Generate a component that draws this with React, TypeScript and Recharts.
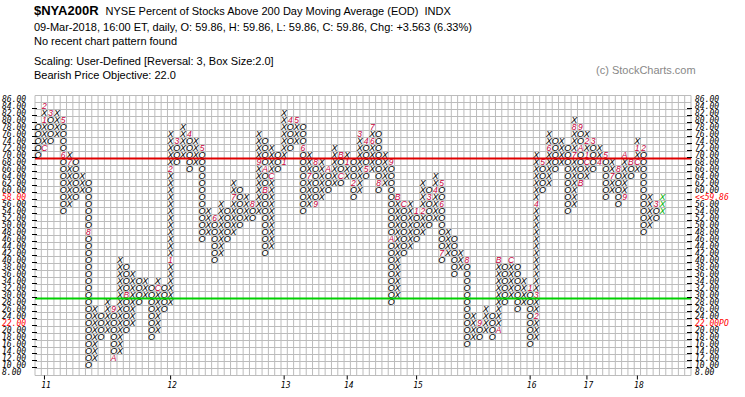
import React from 'react';
import { ComposedChart, Bar, XAxis, YAxis, CartesianGrid, ReferenceLine } from 'recharts';

// $NYA200R point & figure, box size 2, reversal 3.
// Columns alternate: even index = O column, odd index = X column.
const colLow = [
  70, 72, 74, 76, 54, 56, 58, 60, 10, 12, 18, 20, 12, 14, 20, 22, 28, 30, 18, 20,
  26, 28, 68, 70, 66, 68, 46, 48, 40, 42, 46, 48, 50, 52, 52, 54, 42, 44, 66, 68,
  72, 74, 54, 56, 56, 58, 60, 62, 62, 64, 58, 60, 64, 66, 60, 62, 28, 30, 42, 44,
  46, 48, 50, 52, 40, 42, 36, 38, 16, 18, 18, 20, 18, 20, 28, 30, 26, 28, 16, 18,
  60, 62, 66, 68, 54, 56, 62, 64, 66, 68, 58, 60, 56, 58, 64, 66, 48, 50, 52, 54,
];
const colHigh = [
  78, 84, 82, 82, 80, 70, 68, 64, 62, 26, 24, 28, 26, 40, 38, 36, 34, 34, 32, 34,
  32, 76, 74, 78, 76, 74, 72, 54, 52, 56, 54, 62, 60, 58, 56, 76, 74, 72, 70, 82,
  80, 80, 78, 70, 68, 68, 66, 72, 70, 70, 68, 76, 74, 78, 76, 70, 68, 58, 56, 56,
  54, 62, 60, 64, 62, 48, 46, 42, 40, 24, 22, 26, 24, 40, 38, 40, 38, 34, 32, 70,
  68, 76, 74, 74, 72, 80, 78, 76, 74, 72, 70, 68, 66, 70, 68, 74, 72, 58, 56, 58,
];

// month codes printed in place of a box (1-9 = Jan-Sep, A/B/C = Oct/Nov/Dec)
const markCol = [
  1, 1, 1, 2, 4, 4, 5, 8, 12, 12, 14, 19,
  21, 21, 22, 24, 26, 28, 31, 34, 35, 36, 36, 37,
  39, 40, 41, 42, 43, 44, 44, 46, 48, 48,
  49, 50, 51, 52, 52, 53, 53, 54, 56, 56, 57, 58,
  60, 61, 62, 63, 64, 64, 64, 68, 70, 73, 73, 75,
  78, 79, 79, 79, 80, 81, 85, 85, 86, 86, 86, 87,
  87, 87, 88, 89, 90, 91, 92, 93, 93, 94, 95,
  95, 96, 98,
];
const markBox = [
  72, 80, 84, 82, 80, 70, 68, 48, 26, 12, 30, 32,
  40, 66, 74, 76, 72, 52, 58, 56, 68, 66, 60, 64,
  68, 80, 80, 72, 64, 68, 56, 66, 70, 64,
  68, 62, 76, 74, 66, 74, 78, 62, 68, 46, 58, 56,
  54, 54, 58, 60, 62, 56, 42, 40, 22, 20, 40, 40,
  32, 24, 30, 56, 68, 72, 70, 78, 78, 72, 62, 68,
  70, 74, 74, 68, 70, 64, 66, 58, 70, 68, 68,
  72, 72, 56,
];
const markText = [
  'C', '1', '2', '3', '5', '6', '7', '8', '9', 'A', 'B', 'C',
  '1', '2', '3', '4', '5', '6', '7', '8', '9', 'A', 'B', 'C',
  '1', '4', '5', '6', '7', '8', '9', 'A', 'B', 'C',
  '1', '2', '3', '4', '5', '6', '7', '8', '9', 'A', 'B', 'C',
  '1', '2', '3', '4', '5', '6', '7', '8', '9', 'A', 'B', 'C',
  '1', '2', '3', '4', '5', '6', '7', '8', '9', 'A', 'B', 'C',
  '1', '2', '3', '4', '5', '7', '8', '9', 'A', 'B', 'C',
  '1', '2', '3',
];

const priceTicks = [
  86, 84, 82, 80, 78, 76, 74, 72, 70, 68, 66, 64, 62, 60, 58, 56, 54, 52, 50, 48,
  46, 44, 42, 40, 38, 36, 34, 32, 30, 28, 26, 24, 22, 20, 18, 16, 14, 12, 10, 8,
];
const yearCols = [1, 21, 39, 49, 60, 78, 87, 95];
const yearLabels = ['11', '12', '13', '14', '15', '16', '17', '18'];

const lastPrice = '59.86';
const lastBox = 58;
const objectiveBox = 22;
const resistanceLevel = 69;
const supportLevel = 29;
const totalCols = 104;

const MARK_RED = '#c8003c';
const AXIS_FONT = '"DejaVu Sans Mono", monospace';
const GLYPH_FONT = '"Liberation Sans", Arial, sans-serif';

const chartData = Array.from({ length: totalCols }, (_, i) => {
  const has = i < colLow.length;
  const marks: Record<number, string> = {};
  markCol.forEach((c, k) => {
    if (c === i) marks[markBox[k]] = markText[k];
  });
  return {
    col: i,
    range: has ? [colLow[i] - 1, colHigh[i] + 1] : null,
    low: has ? colLow[i] : null,
    high: has ? colHigh[i] : null,
    kind: i % 2 === 0 ? 'O' : 'X',
    current: i === colLow.length - 1,
    marks,
  };
});

const PFColumn = (props: any) => {
  const { x, y, width, height, payload } = props;
  if (!payload || payload.low == null) return <g />;
  const top = Math.min(y, y + height);
  const h = Math.abs(height);
  const n = (payload.high - payload.low) / 2 + 1;
  const bh = h / n;
  const out = [];
  for (let k = 0; k < n; k++) {
    const v = payload.high - 2 * k;
    const mk = payload.marks[v];
    out.push(
      <text
        key={k}
        x={x + width / 2}
        y={top + (k + 0.5) * bh}
        dy="0.36em"
        textAnchor="middle"
        fontFamily={GLYPH_FONT}
        fontStyle="italic"
        fontSize={mk ? 8.5 : 9}
        fill={mk ? MARK_RED : payload.current ? '#00b000' : '#000'}
      >
        {mk ?? payload.kind}
      </text>
    );
  }
  return <g>{out}</g>;
};

const LeftTick = (p: any) => {
  const v = p.payload.value;
  const red = v === lastBox || v === objectiveBox;
  return (
    <g>
      {v > 8 && v < 86 && (
        <line x1={p.x - 3} x2={p.x + 2} y1={p.y + 2.5} y2={p.y + 2.5} stroke="#000" />
      )}
      <text
        x={2}
        y={p.y}
        dy="0.35em"
        fontFamily={AXIS_FONT}
        fontStyle="italic"
        fontSize={8}
        fill={red ? '#ff0000' : '#000'}
      >
        {v.toFixed(2)}
      </text>
    </g>
  );
};

const RightTick = (p: any) => {
  const v = p.payload.value;
  let label = v.toFixed(2);
  let color = '#000';
  if (v === lastBox) {
    label = '<<' + lastPrice;
    color = '#ff0000';
  } else if (v === objectiveBox) {
    label = v.toFixed(2) + 'PO';
    color = '#ff0000';
  }
  return (
    <g>
      {v > 8 && v < 86 && (
        <line x1={p.x - 4} x2={p.x + 1} y1={p.y + 2.5} y2={p.y + 2.5} stroke="#000" />
      )}
      <text
        x={p.x + 4}
        y={p.y}
        dy="0.35em"
        fontFamily={AXIS_FONT}
        fontStyle="italic"
        fontSize={8}
        fill={color}
      >
        {label}
      </text>
    </g>
  );
};

const YearTick = (p: any) => {
  const idx = yearCols.indexOf(p.payload.value);
  return (
    <g>
      <line x1={p.x} x2={p.x} y1={p.y} y2={p.y + 4} stroke="#000" />
      <text
        x={p.x + 1.5}
        y={p.y + 10}
        dy="0.35em"
        textAnchor="middle"
        fontFamily={AXIS_FONT}
        fontStyle="italic"
        fontSize={8}
        fill="#000"
      >
        {idx >= 0 ? yearLabels[idx] : ''}
      </text>
    </g>
  );
};

const headStyle: React.CSSProperties = {
  position: 'absolute',
  left: 34,
  fontFamily: '"Liberation Sans", Arial, sans-serif',
  fontSize: 11,
  color: '#000',
  whiteSpace: 'nowrap',
  lineHeight: '13px',
};

export default function App() {
  return (
    <div style={{ position: 'absolute', left: 0, top: 0, width: 745, height: 397, background: '#fff' }}>
      <div style={{ ...headStyle, top: 4 }}>
        <span style={{ fontWeight: 'bold', fontSize: 13 }}>$NYA200R</span>
        <span style={{ marginLeft: 7 }}>NYSE Percent of Stocks Above 200 Day Moving Average (EOD)&nbsp;&nbsp;INDX</span>
      </div>
      <div style={{ ...headStyle, top: 21 }}>
        09-Mar-2018, 16:00 ET, daily, O: 59.86, H: 59.86, L: 59.86, C: 59.86, Chg: +3.563 (6.33%)
      </div>
      <div style={{ ...headStyle, top: 35 }}>No recent chart pattern found</div>
      <div style={{ ...headStyle, top: 55 }}>Scaling: User-Defined [Reversal: 3, Box Size:2.0]</div>
      <div style={{ ...headStyle, top: 69 }}>Bearish Price Objective: 22.0</div>
      <div style={{ ...headStyle, left: 596, top: 64, color: '#888' }}>(c) StockCharts.com</div>

      <div style={{ position: 'absolute', left: 0, top: 0 }}>
        <ComposedChart
          width={745}
          height={397}
          data={chartData}
          margin={{ top: 95.5, right: 0, bottom: 0, left: 0 }}
          barCategoryGap={0}
          barGap={0}
        >
          <CartesianGrid
            stroke="#bcbcbc"
            strokeWidth={1}
            yAxisId="left"
            verticalCoordinatesGenerator={({ offset }: any) =>
              Array.from({ length: totalCols + 1 }, (_, k) => offset.left + (k * offset.width) / totalCols)
            }
            horizontalCoordinatesGenerator={({ offset }: any) =>
              Array.from({ length: priceTicks.length + 1 }, (_, k) => offset.top + (k * offset.height) / priceTicks.length)
            }
          />
          <XAxis
            dataKey="col"
            type="category"
            height={21.5}
            ticks={yearCols}
            interval={0}
            tick={<YearTick />}
            tickLine={false}
            axisLine={false}
            tickSize={0}
            tickMargin={0}
          />
          <YAxis
            yAxisId="left"
            type="number"
            domain={[7, 87]}
            ticks={priceTicks}
            interval={0}
            width={35}
            tick={<LeftTick />}
            tickLine={false}
            axisLine={false}
            tickSize={0}
            tickMargin={0}
            allowDataOverflow
          />
          <YAxis
            yAxisId="right"
            orientation="right"
            type="number"
            domain={[7, 87]}
            ticks={priceTicks}
            interval={0}
            width={54}
            tick={<RightTick />}
            tickLine={false}
            axisLine={false}
            tickSize={0}
            tickMargin={0}
            allowDataOverflow
          />
          <Bar yAxisId="left" dataKey="range" shape={<PFColumn />} isAnimationActive={false} />
          <ReferenceLine yAxisId="left" y={resistanceLevel} stroke="#e00000" strokeWidth={2} />
          <ReferenceLine yAxisId="left" y={supportLevel} stroke="#00d000" strokeWidth={2} />
        </ComposedChart>
      </div>
    </div>
  );
}
